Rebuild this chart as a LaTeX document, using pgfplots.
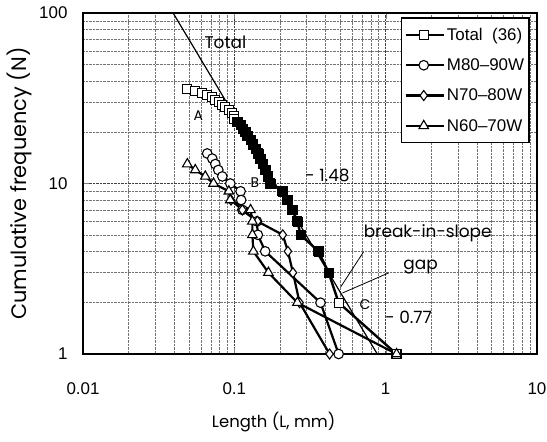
\documentclass[border=0pt]{standalone}
\usepackage{fontspec}
\setmainfont{Liberation Sans}
\newfontfamily\gfont{Poppins}
\usepackage{pgfplots}
\pgfplotsset{compat=1.18}
\begin{document}
\begin{tikzpicture}
\useasboundingbox (-83bp,-88bp) rectangle (464bp,354bp);
\begin{axis}[
  at={(0,0)}, anchor=south west,
  scale only axis, width=454bp, height=341bp,
  xmode=log, ymode=log,
  xmin=0.01, xmax=10, ymin=1, ymax=100,
  xtick={0.01,0.1,1,10}, xticklabels={0.01,0.1,1,10},
  ytick={1,10,100}, yticklabels={1,10,100},
  minor xtick={0.02,0.03,0.04,0.05,0.06,0.07,0.08,0.09,0.2,0.3,0.4,0.5,0.6,0.7,0.8,0.9,2,3,4,5,6,7,8,9},
  minor ytick={2,3,4,5,6,7,8,9,20,30,40,50,60,70,80,90},
  grid=both,
  major grid style={densely dotted, black!75, line width=0.6bp},
  minor grid style={densely dotted, black!55, line width=0.5bp},
  tick align=inside, major tick length=6bp, minor tick length=0pt,
  axis line style={line width=1.2bp},
  /pgf/number format/assume math mode=true,
  ticklabel style={font=\fontsize{17}{17}\selectfont},
  xticklabel style={yshift=-25bp},
  yticklabel style={xshift=-12bp},
  xlabel={Length (L, mm)},
  ylabel={Cumulative frequency (N)},
  xlabel style={font=\gfont\fontsize{16.5}{16.5}\selectfont, at={(rel axis cs:0.42,0)}, anchor=center, yshift=-68bp},
  ylabel style={font=\gfont\fontsize{21}{21}\selectfont, at={(rel axis cs:0,0.5)}, anchor=center, yshift=64bp},
  legend style={at={(rel axis cs:0.70,0.988)}, anchor=north west, draw=black, line width=1.5bp,
    font=\fontsize{17}{17}\selectfont, row sep=13bp, inner ysep=8bp, inner xsep=3bp},
  legend cell align=left,
  legend image code/.code={\path (-6bp,0bp) -- (32bp,0bp);\draw[mark repeat=2,mark phase=2] plot coordinates {(0bp,0bp) (12bp,0bp) (24bp,0bp)};},
]
% Total
\addplot[black, line width=2.4bp, mark=square*, mark size=4.5bp, mark options={fill=white, line width=1.1bp, solid}] coordinates {
(0.049,36) (0.055,35) (0.061,34) (0.066,33) (0.071,32) (0.075,31) (0.079,30) (0.083,29) (0.087,28)
(0.092,27) (0.097,26) (0.099,25) (0.100,24) (0.105,23) (0.110,22) (0.114,21) (0.118,20) (0.122,19)
(0.128,18) (0.133,17) (0.139,16) (0.144,15) (0.149,14) (0.155,13) (0.160,12) (0.166,11) (0.173,10)
(0.208,9) (0.224,8) (0.242,7) (0.261,6) (0.274,5) (0.360,4) (0.420,3) (0.489,2) (1.18,1)};
\addlegendentry{Total\ \ (36)}
\addplot[only marks, black, mark=square*, mark size=4.5bp, forget plot] coordinates {
(0.105,23) (0.110,22) (0.114,21) (0.118,20) (0.122,19)
(0.128,18) (0.133,17) (0.139,16) (0.144,15) (0.149,14) (0.155,13) (0.160,12) (0.166,11) (0.173,10)
(0.208,9) (0.224,8) (0.242,7) (0.261,6) (0.274,5) (0.360,4) (0.420,3)};
% M80-90W
\addplot[black, line width=2.2bp, mark=*, mark size=4.8bp, mark options={fill=white, line width=1.1bp, solid}] coordinates {
(0.0662,15) (0.0715,14) (0.0749,13) (0.0784,12) (0.0833,11) (0.0941,10) (0.110,9) (0.111,8) (0.113,7)
(0.141,6) (0.143,5) (0.160,4) (0.371,2) (0.489,1)};
\addlegendentry{M80--90W}
% N70-80W
\addplot[black, line width=2.2bp, mark=diamond*, mark size=5bp, mark options={fill=white, line width=1.1bp, solid}] coordinates {
(0.095,8) (0.113,7) (0.142,6) (0.209,5) (0.226,4) (0.244,3) (0.270,2) (0.426,1)};
\addlegendentry{N70--80W}
% N60-70W
\addplot[black, line width=2.2bp, mark=triangle*, mark size=5.5bp, mark options={fill=white, line width=1.1bp, solid}] coordinates {
(0.0489,13) (0.0552,12) (0.0643,11) (0.0729,10) (0.092,9) (0.094,8) (0.128,7) (0.1316,6) (0.1316,5)
(0.1336,4) (0.168,3) (0.261,2) (1.18,1)};
\addlegendentry{N60--70W}
% regression line slope -1.48
\addplot[black, line width=1.2bp, forget plot] coordinates {(0.0394,100) (0.88,1)};
% annotations
\node[font=\gfont\fontsize{17}{17}\selectfont] at (axis cs:0.0873,67.6) {Total};
\node[font=\gfont\fontsize{14}{14}\selectfont] at (axis cs:0.0578,25) {A};
\node[font=\gfont\fontsize{14}{14}\selectfont] at (axis cs:0.137,10.1) {B};
\node[font=\gfont\fontsize{14}{14}\selectfont] at (axis cs:0.73,1.96) {C};
\node[font=\gfont\fontsize{17}{17}\selectfont] at (axis cs:0.413,11.1) {- 1.48};
\node[font=\gfont\fontsize{17}{17}\selectfont] at (axis cs:1.897,5.12) {break-in-slope};
\node[font=\gfont\fontsize{17}{17}\selectfont] at (axis cs:1.70,3.24) {gap};
\node[font=\gfont\fontsize{17}{17}\selectfont] at (axis cs:1.42,1.63) {- 0.77};
\draw[line width=0.8bp] (axis cs:0.714,3.97) -- (axis cs:0.504,2.47);
\draw[line width=0.8bp] (axis cs:1.047,2.99) -- (axis cs:0.519,2.28);
\end{axis}
\end{tikzpicture}
\end{document}
